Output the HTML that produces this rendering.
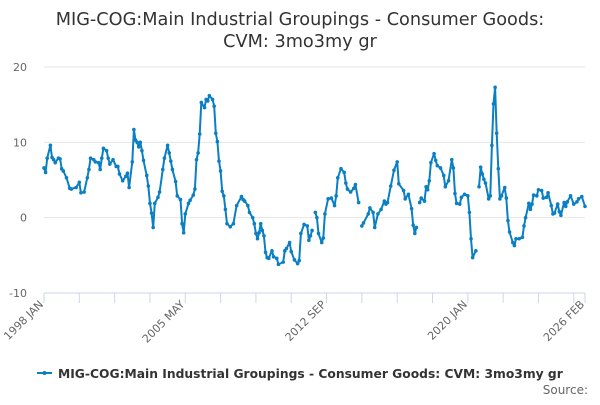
<!DOCTYPE html>
<html><head><meta charset="utf-8"><style>
body{margin:0;background:#fff;font-family:"Liberation Sans","DejaVu Sans",sans-serif}
svg text{font-family:"DejaVu Sans","Liberation Sans",sans-serif}
</style></head><body>
<svg id="chart" width="600" height="400" viewBox="0 0 600 400">
<text x="300" y="25" text-anchor="middle" font-size="17.7" fill="#333">MIG-COG:Main Industrial Groupings - Consumer Goods:</text>
<text x="300" y="47" text-anchor="middle" font-size="17.7" fill="#333">CVM: 3mo3my gr</text>
<g id="grid"></g><g id="xaxis"></g><g id="series"></g>
<g>
<line x1="37" y1="373" x2="52" y2="373" stroke="#0a7fc2" stroke-width="2"/>
<circle cx="44.5" cy="373" r="2" fill="#0a7fc2"/>
<text x="58" y="378" font-size="12.3" font-weight="bold" fill="#333">MIG-COG:Main Industrial Groupings - Consumer Goods: CVM: 3mo3my gr</text>
</g>
<text x="588" y="394" text-anchor="end" font-size="12" fill="#666">Source:</text>
</svg>
<script>
const yTicks=[20,10,0,-10];
const xTickLabels=["1998 JAN","2005 MAY","2012 SEP","2020 JAN","2026 FEB"];
const xTickMonths=[0,88,176,264,337];
const months=[0,1,2,4,5,6,7,9,10,11,12,14,16,17,20,22,23,25,27,28,29,31,32,34,35,36,37,39,40,41,43,45,46,47,49,51,52,53,55,56,57,58,59,60,61,62,64,65,66,67,68,69,71,72,74,75,77,78,79,80,82,83,85,86,87,88,90,91,93,94,95,96,97,98,100,101,102,103,105,106,107,108,109,110,111,112,113,114,116,118,120,123,124,125,127,128,130,131,132,133,134,135,136,137,138,139,140,142,143,145,146,149,150,151,153,154,156,158,159,160,162,164,165,166,167,168,169,170,171,173,174,175,177,179,181,182,183,185,187,188,189,191,193,194,196,197,198,199,202,203,205,206,208,210,212,213,214,216,218,220,221,224,225,227,229,230,231,232,233,234,235,237,238,239,240,241,243,244,245,247,249,250,252,254,255,256,257,259,260,262,264,265,266,267,269,270,271,272,273,274,275,277,278,279,280,281,282,283,284,285,287,288,289,290,292,293,294,296,298,299,300,302,303,304,305,307,308,310,311,313,314,316,317,318,320,321,322,324,325,326,328,330,332,333,335,337];
const values=[6.6,6.0,7.9,9.6,8.0,7.7,7.3,7.9,7.8,6.5,6.2,5.3,3.9,3.8,4.0,4.7,3.3,3.4,5.3,6.4,7.9,7.7,7.4,7.3,6.4,7.9,9.2,8.9,7.9,7.1,7.7,6.8,6.8,5.8,4.9,5.5,5.9,4.0,7.4,11.7,10.3,10.0,9.4,10.0,8.9,7.6,5.6,4.2,1.9,0.6,-1.3,1.9,2.7,3.4,6.4,7.9,9.6,8.6,7.5,6.4,4.8,2.9,2.4,-0.8,-2.0,0.5,1.9,2.3,3.0,3.8,7.7,8.6,11.1,15.3,14.6,15.7,15.5,16.2,15.7,14.8,11.2,10.1,7.5,6.2,3.5,2.9,1.1,-0.8,-1.2,-0.8,1.6,2.8,2.4,2.2,1.6,0.7,0.0,-0.8,-2.1,-2.8,-2.0,-0.8,-1.7,-2.4,-4.6,-5.3,-5.4,-4.4,-5.2,-5.4,-6.2,-5.9,-4.4,-4.1,-3.3,-4.5,-5.6,-6.1,-5.7,-2.1,-0.9,-1.1,-3.0,-2.4,-1.7,null,0.7,0.0,-2.1,-3.3,-2.7,0.5,2.5,2.6,1.6,2.9,5.3,6.5,6.0,4.6,3.8,3.4,3.9,4.4,2.0,null,-1.1,-0.7,0.5,1.3,0.7,-1.3,0.5,1.1,2.2,1.8,2.0,4.2,6.3,7.4,4.5,3.6,2.5,3.1,1.2,-1.0,-2.1,-1.3,null,2.0,2.6,2.2,4.1,3.7,4.9,7.3,8.5,7.6,6.9,6.6,5.6,4.1,4.9,7.7,6.6,3.2,1.9,1.8,2.7,3.1,2.9,0.7,-2.8,-5.3,-4.4,null,4.1,6.7,5.8,5.1,4.6,2.5,2.9,9.6,15.1,17.3,11.2,6.5,2.5,2.9,4.0,2.6,-0.4,-1.9,-3.3,-3.7,-2.8,-2.8,-2.6,-1.1,0.0,1.9,1.1,1.8,3.0,2.9,3.7,3.6,2.6,2.7,3.3,1.6,0.5,0.6,1.8,0.8,0.3,2.0,1.5,2.1,2.9,1.8,2.1,2.5,2.8,1.5];
const NS="http://www.w3.org/2000/svg";
const X0=44,X1=585,Y0=67,Y1=293,MIN=-10,MAX=20,MMAX=337;
const xs=m=>X0+(X1-X0)*m/MMAX;
const ys=v=>Y1-(Y1-Y0)*(v-MIN)/(MAX-MIN);
function mk(t,a,p){const e=document.createElementNS(NS,t);for(const k in a)e.setAttribute(k,a[k]);p.appendChild(e);return e;}
const grid=document.getElementById('grid');
yTicks.forEach(v=>{
 if(v!==MIN){const l=mk('line',{x1:X0,x2:X1,y1:ys(v),y2:ys(v),stroke:'#e6e6e6','stroke-width':1},grid);
 
 }
 const t=mk('text',{x:27,y:ys(v)+4,'text-anchor':'end','font-size':11,fill:'#666'},grid);
 t.textContent=v;
 
 
});
const xa=document.getElementById('xaxis');
const ax=mk('line',{x1:X0,x2:X1,y1:Y1,y2:Y1,stroke:'#ccd6eb','stroke-width':1},xa);


for(let m=0;m<=MMAX;m+=22){const tk=mk('line',{x1:xs(m),x2:xs(m),y1:Y1,y2:Y1+10,stroke:'#ccd6eb'},xa);
 
 }
mk('line',{x1:xs(MMAX),x2:xs(MMAX),y1:Y1,y2:Y1+10,stroke:'#ccd6eb'},xa);
xTickLabels.forEach((s,i)=>{
 const x=xs(xTickMonths[i]),y=Y1+12;
 const t=mk('text',{x:x,y:y,'text-anchor':'end','font-size':11,fill:'#666',transform:`rotate(-45 ${x} ${y})`},xa);
 t.textContent=s;
 
 
});
const sg=document.getElementById('series');
let segs=[],cur=[];
months.forEach((m,i)=>{const v=values[i];if(v===null){if(cur.length)segs.push(cur);cur=[];}else cur.push([xs(m),ys(v)]);});
if(cur.length)segs.push(cur);
segs.forEach(s=>{
 const p=mk('path',{d:'M'+s.map(q=>q[0].toFixed(1)+','+q[1].toFixed(1)).join('L'),fill:'none',stroke:'#0a7fc2','stroke-width':2,'stroke-linejoin':'round'},sg);
 
 
 s.forEach(q=>{const c=mk('circle',{cx:q[0],cy:q[1],r:1.8,fill:'#0a7fc2'},sg);
  
  });
});
</script>
</body></html>
